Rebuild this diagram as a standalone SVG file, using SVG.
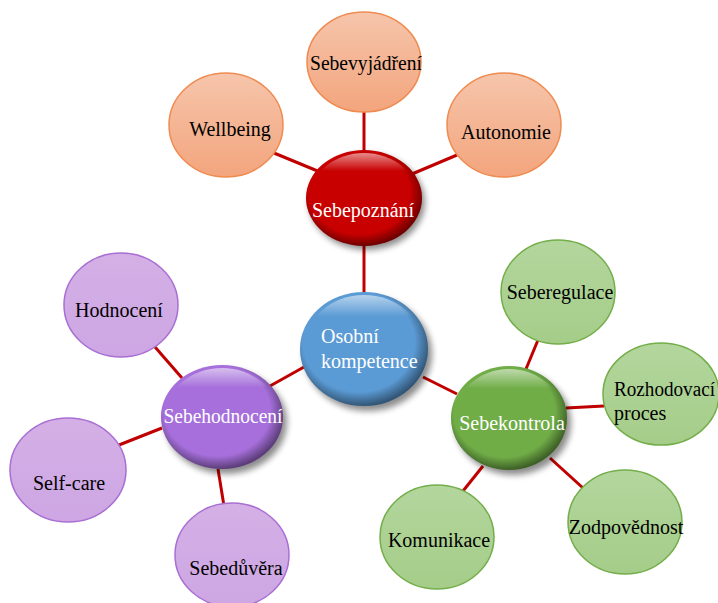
<svg xmlns="http://www.w3.org/2000/svg" width="718" height="603" viewBox="0 0 718 603">
<defs>
<linearGradient id="gPeach" x1="0" y1="0" x2="0" y2="1"><stop offset="0" stop-color="#f6c5ab"/><stop offset="1" stop-color="#f3a57d"/></linearGradient>
<linearGradient id="gPurple" x1="0" y1="0" x2="0" y2="1"><stop offset="0" stop-color="#d4b0e6"/><stop offset="1" stop-color="#cda6e3"/></linearGradient>
<linearGradient id="gGreen" x1="0" y1="0" x2="0" y2="1"><stop offset="0" stop-color="#b3d69d"/><stop offset="1" stop-color="#a5cd89"/></linearGradient>
<radialGradient id="gEdge" cx="0.46" cy="0.44" r="0.56"><stop offset="0.78" stop-color="#000" stop-opacity="0"/><stop offset="1" stop-color="#000" stop-opacity="0.45"/></radialGradient>
<linearGradient id="gHi" x1="0" y1="0" x2="0" y2="1"><stop offset="0" stop-color="#fff" stop-opacity="0.55"/><stop offset="0.2" stop-color="#fff" stop-opacity="0"/></linearGradient>
<filter id="sh" x="-30%" y="-30%" width="160%" height="160%"><feGaussianBlur stdDeviation="3"/></filter>
</defs>
<style>
.leaf text, .hub text { font-family: "Liberation Serif", "Times New Roman", serif; font-size: 20px; text-anchor: middle; }
.leaf text { fill: #000; }
.hub text { fill: #fff; }
.peach { fill: url(#gPeach); stroke: #ef8b50; stroke-width: 1.5; }
.purple { fill: url(#gPurple); stroke: #a96ed4; stroke-width: 1.5; }
.green { fill: url(#gGreen); stroke: #73ae4a; stroke-width: 1.5; }
.shadow { fill: #000; opacity: 0.45; filter: url(#sh); }
.edge { fill: url(#gEdge); }
.hi { fill: url(#gHi); }
#connectors line { stroke: #c00000; stroke-width: 3; }
</style>

<g id="connectors">
<line x1="364" y1="112" x2="364" y2="152"/>
<line x1="274" y1="153" x2="320" y2="172"/>
<line x1="457" y1="155" x2="412" y2="174"/>
<line x1="364" y1="244" x2="364" y2="293"/>
<line x1="155" y1="347" x2="182" y2="378"/>
<line x1="119" y1="445" x2="162" y2="428"/>
<line x1="218" y1="469" x2="224" y2="506"/>
<line x1="270" y1="386" x2="304" y2="367"/>
<line x1="423" y1="377" x2="457" y2="394"/>
<line x1="538" y1="340" x2="526" y2="369"/>
<line x1="566" y1="408" x2="604" y2="406"/>
<line x1="550" y1="458" x2="583" y2="488"/>
<line x1="483" y1="466" x2="463" y2="491"/>
</g>

<g id="sebevyjadreni" class="leaf"><ellipse class="peach" cx="364" cy="62" rx="57" ry="50"/><text x="366" y="70" textLength="112" lengthAdjust="spacingAndGlyphs">Sebevyjádření</text></g>
<g id="wellbeing" class="leaf"><ellipse class="peach" cx="226" cy="125" rx="57" ry="52"/><text x="230" y="136" font-size="21">Wellbeing</text></g>
<g id="autonomie" class="leaf"><ellipse class="peach" cx="504" cy="125" rx="57" ry="52"/><text x="506" y="139" font-size="21">Autonomie</text></g>

<g id="sebepoznani" class="hub">
<ellipse class="shadow" cx="367" cy="202" rx="58" ry="48"/>
<ellipse cx="364" cy="198" rx="58" ry="48" fill="#c80000"/>
<ellipse class="edge" cx="364" cy="198" rx="58" ry="48"/>
<ellipse class="hi" cx="364" cy="198" rx="54" ry="45"/>
<text x="363" y="217" font-size="21">Sebepoznání</text>
</g>

<g id="osobni" class="hub">
<ellipse class="shadow" cx="368" cy="354" rx="64" ry="57"/>
<ellipse cx="364" cy="349" rx="64" ry="57" fill="#5b9bd5"/>
<ellipse class="edge" cx="364" cy="349" rx="64" ry="57"/>
<ellipse class="hi" cx="364" cy="349" rx="60" ry="54"/>
<text x="321" y="343" font-size="21" style="text-anchor:start">Osobní</text>
<text x="321" y="368" font-size="21" style="text-anchor:start">kompetence</text>
</g>

<g id="sebehodnoceni" class="hub">
<ellipse class="shadow" cx="226" cy="422" rx="61" ry="52"/>
<ellipse cx="222" cy="417" rx="61" ry="52" fill="#a66fdb"/>
<ellipse class="edge" cx="222" cy="417" rx="61" ry="52"/>
<ellipse class="hi" cx="222" cy="417" rx="57" ry="49"/>
<text x="223" y="423" textLength="119" lengthAdjust="spacingAndGlyphs">Sebehodnocení</text>
</g>

<g id="sebekontrola" class="hub">
<ellipse class="shadow" cx="513" cy="423" rx="58" ry="52"/>
<ellipse cx="509" cy="418" rx="58" ry="52" fill="#70ad47"/>
<ellipse class="edge" cx="509" cy="418" rx="58" ry="52"/>
<ellipse class="hi" cx="509" cy="418" rx="54" ry="49"/>
<text x="512" y="430">Sebekontrola</text>
</g>

<g id="hodnoceni" class="leaf"><ellipse class="purple" cx="121" cy="305" rx="57" ry="52"/><text x="119" y="317">Hodnocení</text></g>
<g id="selfcare" class="leaf"><ellipse class="purple" cx="68" cy="470" rx="58" ry="52"/><text x="69" y="490">Self-care</text></g>
<g id="sebeduvera" class="leaf"><ellipse class="purple" cx="232" cy="555" rx="57" ry="52"/><text x="236" y="575">Sebedůvěra</text></g>

<g id="seberegulace" class="leaf"><ellipse class="green" cx="558" cy="292" rx="57" ry="52"/><text x="560" y="299">Seberegulace</text></g>
<g id="rozhodovaci" class="leaf"><ellipse class="green" cx="661" cy="394" rx="58" ry="51"/><text x="614" y="396" style="text-anchor:start" textLength="101" lengthAdjust="spacingAndGlyphs">Rozhodovací</text><text x="614" y="420" style="text-anchor:start">proces</text></g>
<g id="zodpovednost" class="leaf"><ellipse class="green" cx="625" cy="522" rx="57" ry="52"/><text x="626" y="534">Zodpovědnost</text></g>
<g id="komunikace" class="leaf"><ellipse class="green" cx="437" cy="537" rx="57" ry="52"/><text x="439" y="547">Komunikace</text></g>
</svg>
